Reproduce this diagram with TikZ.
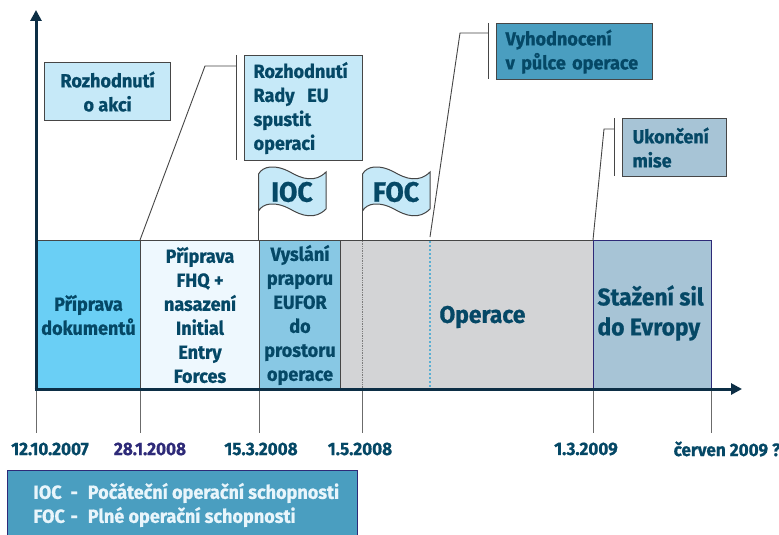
\documentclass[tikz,border=0pt]{standalone}
\usepackage{fontspec}
\setmainfont{Fira Sans}[FakeStretch=0.95, BoldFeatures={FakeStretch=0.95, FakeBold=0.8}]
\usetikzlibrary{arrows.meta}
\definecolor{txt}{RGB}{5,72,102}
\definecolor{navy}{RGB}{12,46,69}
\definecolor{lightbox}{RGB}{198,233,248}
\definecolor{midbox}{RGB}{74,158,192}
\definecolor{greybox}{RGB}{167,196,214}
\definecolor{seg1}{RGB}{106,207,245}
\definecolor{seg2}{RGB}{238,248,254}
\definecolor{seg3}{RGB}{136,200,228}
\definecolor{seg4}{RGB}{211,212,214}
\definecolor{seg5}{RGB}{167,196,214}
\definecolor{purp}{RGB}{46,42,120}
\definecolor{lineg}{RGB}{70,70,70}
\definecolor{dotblue}{RGB}{90,175,211}
\definecolor{legtxt}{RGB}{232,245,251}
\tikzset{
  base/.style={font=\bfseries\fontsize{19}{24}\selectfont, text=txt},
  seg/.style={draw=lineg, line width=1pt, inner sep=0pt, anchor=north west, align=center},
  box/.style={draw=lineg, line width=1.2pt, anchor=north west, align=left, inner ysep=0pt},
  leader/.style={draw=lineg, line width=0.9pt},
  tick/.style={draw=lineg!80, line width=0.9pt},
  axis/.style={draw=navy, line width=3pt, -{Triangle[length=11pt,width=11pt]}},
  flag/.style={draw=lineg, line width=1pt, fill=lightbox},
  datel/.style={font=\bfseries\fontsize{18}{20}\selectfont, text=txt},
  big/.style={font=\bfseries\fontsize{24}{30}\selectfont, text=txt},
}
\begin{document}
\begin{tikzpicture}[x=1pt,y=-1pt, base]
\useasboundingbox (0,0) rectangle (779,535);
\fill[white] (0,0) rectangle (779,535);

% segments
\node[seg, fill=seg1, minimum width=104pt, minimum height=149pt] (s1) at (36,240) {Příprava\\dokumentů};
\node[seg, fill=seg2, minimum width=119pt, minimum height=149pt] (s2) at (140,240) {Příprava\\FHQ +\\nasazení\\Initial\\Entry\\Forces};
\node[seg, fill=seg3, minimum width=81pt, minimum height=149pt] (s3) at (259,240) {Vyslání\\praporu\\EUFOR\\do\\prostoru\\operace};
\node[seg, fill=seg4, minimum width=253pt, minimum height=149pt] (s4) at (340,240) {};
\node[seg, fill=seg5, draw=purp, minimum width=118pt, minimum height=149pt] (s5) at (593,240) {};
\node[big, anchor=west] (op) at (436,317) {Operace};
\node[big, anchor=west, align=left] (st) at (594,313) {Stažení sil\\do Evropy};

% dotted lines in band
\coordinate (d1t) at (362,241); \coordinate (d1b) at (362,388);
\coordinate (d2t) at (430,241); \coordinate (d2b) at (430,388);
\draw[lineg!70, line width=0.7pt, densely dotted] (d1t) -- (d1b);
\draw[dotblue, line width=2pt, dash pattern=on 2pt off 2pt] (d2t) -- (d2b);

% ticks below
\foreach \x/\n in {36/a,140/b,259/c,362/d,593/e,711/f}{
  \coordinate (tt\n) at (\x,389);
  \coordinate (tb\n) at (\x,433);
  \draw[tick] (tt\n) -- (tb\n);
}

% axes
\coordinate (origin) at (36,389);
\coordinate (ytip) at (36,10);
\coordinate (xtip) at (742,389);
\draw[axis] (origin) -- (ytip);
\draw[axis] ([xshift=-1.5pt]origin) -- (xtip);

% dates
\node[datel] (d1) at (50,449) {12.10.2007};
\node[datel, text=purp] (d2) at (150,449) {28.1.2008};
\node[datel] (d3) at (261,449) {15.3.2008};
\node[datel] (d4) at (360,449) {1.5.2008};
\node[datel] (d5) at (586,449) {1.3.2009};
\node[datel] (d6) at (727,449) {červen 2009 ?};

% boxes
\node[box, fill=lightbox, align=center, minimum width=126pt, minimum height=58pt, inner sep=0pt] (b1) at (44,62) {Rozhodnutí\\o akci};
\node[box, fill=lightbox, text width=100pt, inner xsep=9pt, minimum height=105pt] (b2) at (244,55) {Rozhodnutí\\Rady~ EU\\spustit\\operaci};
\node[box, fill=midbox, text width=138pt, inner xsep=9pt, minimum height=56pt] (b3) at (496,23) {Vyhodnocení\\v půlce operace};
\node[box, fill=greybox, text width=84pt, inner xsep=10pt, minimum height=58pt] (b4) at (622,118) {Ukončení\\mise};

% leaders with bars
\coordinate (k1) at (205,66); \coordinate (m1) at (236.5,66);
\coordinate (bar1t) at (236.5,55); \coordinate (bar1b) at (236.5,160);
\draw[leader] (s2.north west) -- (k1) -- (m1);
\draw[leader] (bar1t) -- (bar1b);

\coordinate (v0) at (430,237);
\coordinate (k2) at (460,33); \coordinate (m2) at (488.5,33);
\coordinate (bar2t) at (488.5,23); \coordinate (bar2b) at (488.5,79);
\draw[leader] (v0) -- (k2) -- (m2);
\draw[leader] (bar2t) -- (bar2b);

\coordinate (k3) at (604,129); \coordinate (m3) at (614.5,129);
\coordinate (bar3t) at (614.5,118); \coordinate (bar3b) at (614.5,176);
\draw[leader] (s5.north west) -- (k3) -- (m3);
\draw[leader] (bar3t) -- (bar3b);

% flags
\foreach \dx/\lab/\n in {0/IOC/ioc,104/FOC/foc}{
  \begin{scope}[xshift=\dx pt]
    \coordinate (pole\n) at (258.5,174);
    \draw[leader] (pole\n) -- (258.5,240);
    \path[flag] (258.5,174) .. controls (263,166) and (275,164) .. (290,172)
      .. controls (302,179) and (315,183) .. (326,172) -- (326,209)
      .. controls (315,220) and (302,216) .. (290,209)
      .. controls (275,201) and (263,203) .. (258.5,211) -- cycle;
    \node[font=\bfseries\fontsize{28}{30}\selectfont, text=txt] (f\n) at (292,192) {\lab};
  \end{scope}
}

% legend
\node[draw=purp, line width=1pt, fill=midbox, anchor=north west, minimum width=350pt, minimum height=75pt, inner sep=0pt] (leg) at (7,470) {};
\node[anchor=west, align=left, text=legtxt, font=\bfseries\fontsize{19}{24}\selectfont] (legt) at (30,505)
  {\makebox[37pt][l]{IOC}-\hspace{10pt}Počáteční operační schopnosti\\\makebox[37pt][l]{FOC}-\hspace{10pt}Plné operační schopnosti};
\end{tikzpicture}
\end{document}
